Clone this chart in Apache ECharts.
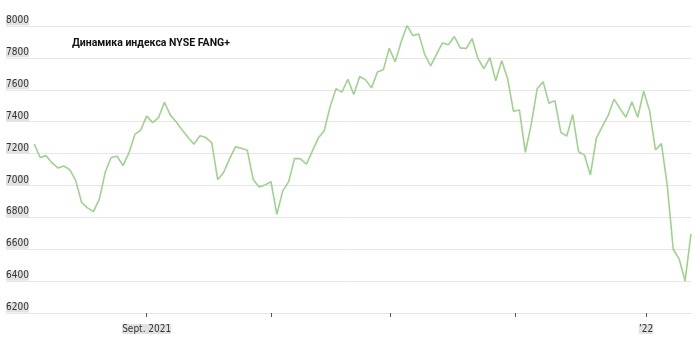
<!DOCTYPE html>
<html>
<head>
<meta charset="utf-8">
<script src="https://cdn.jsdelivr.net/npm/echarts@6/dist/echarts.min.js"></script>
<style>
  html, body { margin: 0; padding: 0; background: #ffffff; }
  #chart { width: 700px; height: 337px; }
</style>
</head>
<body>
<div id="chart"></div>
<script>
// Daily closing values of the NYSE FANG+ index
const values = [
  7259, 7175, 7187, 7141, 7110, 7122, 7099, 7032, 6893, 6859,
  6836, 6914, 7084, 7175, 7183, 7124, 7204, 7320, 7347, 7436,
  7394, 7425, 7522, 7441, 7398, 7347, 7301, 7259, 7312, 7300,
  7267, 7036, 7081, 7167, 7242, 7233, 7221, 7038, 6991, 7003,
  7024, 6819, 6966, 7024, 7170, 7167, 7133, 7215, 7297, 7343,
  7494, 7607, 7585, 7666, 7570, 7683, 7662, 7612, 7712, 7725,
  7861, 7775, 7900, 8003, 7940, 7949, 7821, 7750, 7823, 7894,
  7882, 7934, 7863, 7859, 7921, 7795, 7732, 7802, 7656, 7783,
  7670, 7465, 7473, 7208, 7385, 7606, 7651, 7515, 7532, 7333,
  7310, 7444, 7211, 7190, 7066, 7296, 7369, 7440, 7541, 7482,
  7428, 7524, 7428, 7591, 7468, 7223, 7262, 6997, 6598, 6539,
  6401, 6696
];
// Month-start positions (in trading-day index) and the labelled ones
const tickPositions = [19, 40, 60.1, 81.3, 103.4];
const labelPositions = [19, 103.4];
const tickLabels = ['Sept. 2021', '\u201922'];
const titleText = 'Динамика индекса NYSE FANG+';

const chart = echarts.init(document.getElementById('chart'), null, { renderer: 'canvas' });
const labelFont = "'DejaVu Sans Condensed', Roboto, sans-serif";

chart.setOption({
  animation: false,
  backgroundColor: '#ffffff',
  title: {
    text: titleText,
    left: 72,
    top: 37.5,
    padding: 0,
    textStyle: {
      fontFamily: 'Roboto',
      fontWeight: 'bold',
      fontSize: 10.5,
      color: '#111111'
    }
  },
  grid: { left: 6, right: 9, top: 26, bottom: 24, containLabel: false },
  xAxis: {
    type: 'value',
    min: -4.78,
    max: values.length - 1,
    splitLine: { show: false },
    axisLine: { show: true, lineStyle: { color: '#e6e6e6', width: 1 } },
    axisTick: {
      show: true,
      customValues: tickPositions,
      length: 4,
      lineStyle: { color: '#555555', width: 1 }
    },
    axisLabel: {
      customValues: labelPositions,
      margin: 11,
      formatter: function (v) {
        const i = labelPositions.findIndex(p => Math.abs(p - v) < 1e-6);
        return i >= 0 ? '{a|' + tickLabels[i] + '}' : '';
      },
      rich: {
        a: {
          fontFamily: labelFont,
          fontSize: 10,
          lineHeight: 10,
          color: '#333333',
          backgroundColor: '#e2e2e2'
        }
      }
    }
  },
  yAxis: {
    type: 'value',
    min: 6200,
    max: 8000,
    interval: 200,
    axisLine: { show: false },
    axisTick: { show: false },
    splitLine: { show: true, lineStyle: { color: '#e6e6e6', width: 1 } },
    axisLabel: {
      inside: true,
      margin: 0,
      verticalAlign: 'bottom',
      padding: [0, 0, 1, 0],
      formatter: function (v) { return '{a|' + v + '}'; },
      rich: {
        a: {
          fontFamily: labelFont,
          fontSize: 10,
          lineHeight: 9,
          color: '#333333',
          backgroundColor: '#e2e2e2'
        }
      }
    }
  },
  series: [{
    type: 'line',
    data: values.map((v, i) => [i, v]),
    showSymbol: false,
    smooth: false,
    lineStyle: { color: '#9dd38e', width: 1.6 },
    itemStyle: { color: '#9dd38e' }
  }]
});
</script>
</body>
</html>
